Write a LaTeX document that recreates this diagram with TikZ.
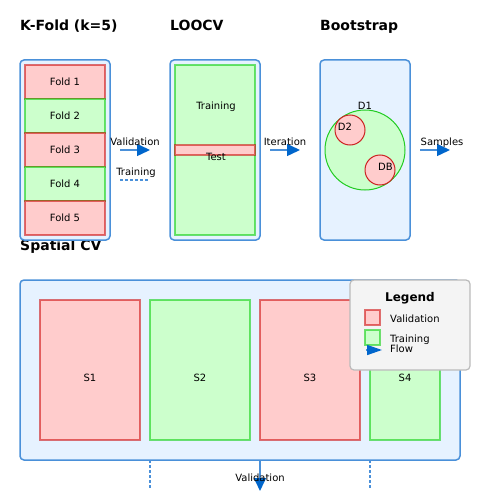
\documentclass[tikz,border=0pt]{standalone}
\usepackage{fontspec}
\setmainfont{DejaVu Sans}
\usetikzlibrary{arrows.meta,positioning}
\definecolor{boxblue}{HTML}{4A90D9}
\definecolor{paleblue}{HTML}{E6F2FF}
\definecolor{arrowblue}{HTML}{0066CC}
\definecolor{valfill}{HTML}{FFCCCC}
\definecolor{valdraw}{HTML}{CC0000}
\definecolor{trnfill}{HTML}{CCFFCC}
\definecolor{trndraw}{HTML}{00CC00}
\definecolor{ringdraw}{HTML}{22CC22}
\definecolor{ringred}{HTML}{CC2222}
\definecolor{legfill}{HTML}{F4F4F4}
\definecolor{legdraw}{HTML}{BBBBBB}
\tikzset{%
  font=\fontsize{10}{12}\selectfont,
  >={Triangle[length=13pt,width=12pt,color=arrowblue]},
  ttl/.style    = {anchor=base west,inner sep=0pt,font=\fontsize{14}{16}\selectfont\bfseries},
  lbl/.style    = {anchor=base,inner sep=0pt},
  panel/.style  = {draw=boxblue,fill=paleblue,line width=1.5pt,rounded corners=4pt,inner sep=0pt,outer sep=0pt},
  valbox/.style = {draw=valdraw,draw opacity=.55,fill=valfill,line width=1.2pt,inner sep=0pt,outer sep=0pt},
  trnbox/.style = {draw=trndraw,draw opacity=.55,fill=trnfill,line width=1.2pt,inner sep=0pt,outer sep=0pt},
  flow/.style   = {draw=boxblue,line width=1.5pt,->},
  trnline/.style= {draw=boxblue,line width=1.5pt,dash pattern=on 3pt off 2pt}
}
\begin{document}
\begin{tikzpicture}[x=1pt,y=-1pt]
  \useasboundingbox (0,0) rectangle (500,500);
  % titles
  \node[ttl] (t-kfold) at (20,31) {K-Fold (k=5)};
  \node[ttl] (t-loocv) at (170,31) {LOOCV};
  \node[ttl] (t-boot) at (320,31) {Bootstrap};
  \node[ttl] (t-spatial) at (20,250) {Spatial CV};
  % k-fold
  \node[panel,minimum width=90pt,minimum height=180pt] (kfold) at (65,150) {};
  \foreach \i/\s in {1/valbox,2/trnbox,3/valbox,4/trnbox,5/valbox}
    \node[\s,minimum width=80pt,minimum height=34pt] (fold-\i) at (65,48+34*\i) {Fold \i};
  \coordinate (val-a) at (120,150);
  \coordinate (val-b) at (150,150);
  \draw[flow] (val-a) -- (val-b);
  \node[lbl] (val-l) at (135,145) {Validation};
  \node[lbl] (trn-l) at (136,175) {Training};
  \coordinate (trn-a) at (120,180);
  \coordinate (trn-b) at (148,180);
  \draw[trnline] (trn-a) -- (trn-b);
  % loocv
  \node[panel,minimum width=90pt,minimum height=180pt] (loocv) at (215,150) {};
  \node[trnbox,minimum width=80pt,minimum height=170pt] (loo-trn) at (215,150) {};
  \node[valbox,minimum width=80pt,minimum height=10pt] (loo-test) at (215,150) {};
  \node[lbl] (loo-trn-l) at (216,110) {Training};
  \node[lbl] (loo-test-l) at (216,160) {Test};
  \coordinate (it-a) at (270,150);
  \coordinate (it-b) at (300,150);
  \draw[flow] (it-a) -- (it-b);
  \node[lbl] (it-l) at (285,145) {Iteration};
  % bootstrap
  \node[panel,minimum width=90pt,minimum height=180pt] (boot) at (365,150) {};
  \node[circle,draw=ringdraw,fill=trnfill,line width=1pt,minimum size=80pt,inner sep=0pt] (d1) at (365,150) {};
  \node[circle,draw=ringred,fill=valfill,line width=1pt,minimum size=30pt,inner sep=0pt] (d2) at (350,130) {};
  \node[circle,draw=ringred,fill=valfill,line width=1pt,minimum size=30pt,inner sep=0pt] (db) at (380,170) {};
  \node[lbl] (d1-l) at (365,110) {D1};
  \node[lbl] (d2-l) at (345,130) {D2};
  \node[lbl] (db-l) at (385.5,170) {DB};
  \coordinate (sm-a) at (420,150);
  \coordinate (sm-b) at (450,150);
  \draw[flow] (sm-a) -- (sm-b);
  \node[lbl] (sm-l) at (442,145) {Samples};
  % spatial cv
  \node[panel,minimum width=440pt,minimum height=180pt] (spatial) at (240,370) {};
  \node[valbox,minimum width=100pt,minimum height=140pt] (s1) at (90,370) {};
  \node[trnbox,minimum width=100pt,minimum height=140pt] (s2) at (200,370) {};
  \node[valbox,minimum width=100pt,minimum height=140pt] (s3) at (310,370) {};
  \node[trnbox,minimum width=70pt,minimum height=140pt] (s4) at (405,370) {};
  \foreach \n/\x in {1/90,2/200,3/310,4/405}
    \node[lbl] (s\n-l) at (\x,381) {S\n};
  \coordinate (cut-1) at (150,488);
  \coordinate (cut-2) at (370,488);
  \coordinate (down) at (260,491);
  \draw[trnline] (s2.south west |- spatial.south) -- (cut-1);
  \draw[trnline] (s4.south west |- spatial.south) -- (cut-2);
  \draw[flow] (s3.south west |- spatial.south) -- (down);
  \node[lbl] (down-l) at (260,481) {Validation};
  % legend
  \node[draw=legdraw,fill=legfill,line width=1.2pt,rounded corners=4pt,minimum width=120pt,minimum height=90pt,inner sep=0pt] (legend) at (410,325) {};
  \node[lbl,font=\fontsize{12}{14}\selectfont\bfseries] (leg-t) at (410,301) {Legend};
  \node[valbox,minimum size=15pt] (leg-val) at (372.5,317.5) {};
  \node[trnbox,minimum size=15pt] (leg-trn) at (372.5,337.5) {};
  \node[lbl,anchor=base west] (leg-val-l) at (390,322) {Validation};
  \node[lbl,anchor=base west] (leg-trn-l) at (390,342) {Training};
  \node[lbl,anchor=base west] (leg-flow-l) at (390,352) {Flow};
  \coordinate (lf-a) at (366,350);
  \coordinate (lf-b) at (382,350);
  \draw[flow,>={Triangle[length=15pt,width=10pt,color=arrowblue]}] (lf-a) -- (lf-b);
\end{tikzpicture}
\end{document}
